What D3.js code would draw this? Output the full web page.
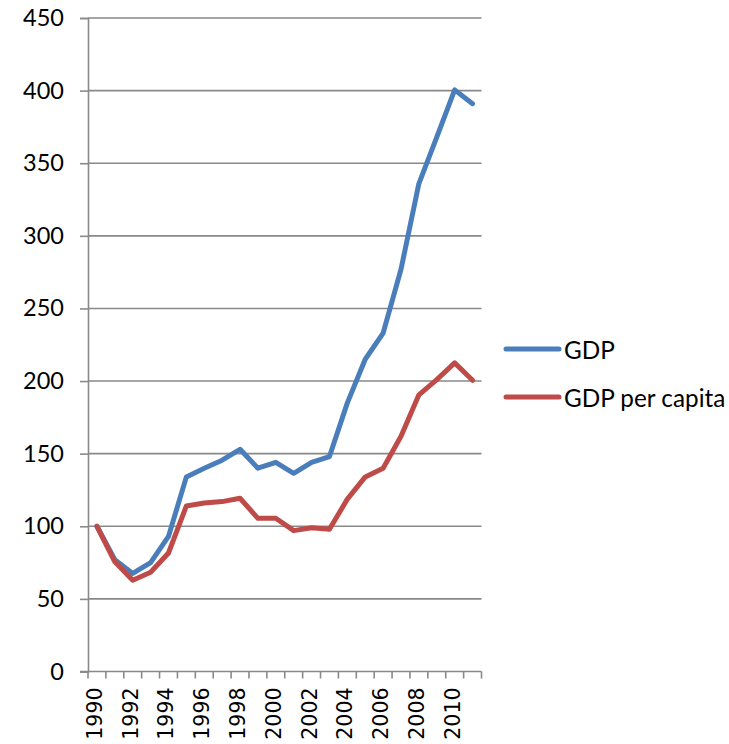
<!DOCTYPE html>
<html>
<head>
<meta charset="utf-8">
<script src="https://cdn.jsdelivr.net/npm/d3@7"></script>
<style>
  html, body { margin: 0; padding: 0; background: #fff; }
  svg { display: block; }
</style>
</head>
<body>
<svg id="chart" width="729" height="744"></svg>
<script>
const years = d3.range(1990, 2012).map(String);
const gdp = [100, 77, 67.5, 75, 93, 134, 140, 145.5, 153, 140, 144, 136.5, 144, 148, 185, 215, 233, 277, 336, 368, 400.5, 391];
const gdpPerCapita = [100, 75.5, 62.8, 68.3, 81.6, 114, 116, 117, 119.3, 105.5, 105.5, 97, 99, 98, 118.7, 134, 140, 162, 190.5, 201, 212.5, 200.5];
const yTicks = [0, 50, 100, 150, 200, 250, 300, 350, 400, 450];
const seriesNames = ["GDP", "GDP per capita"];
const seriesColors = ["#4a7ebb", "#be4b48"];

(function () {
const svg = d3.select("#chart");
const pLeft = 88, pRight = 481.5, pTop = 18, pBottom = 671.5;
const gridColor = "#898989";

const x = d3.scaleBand().domain(years).range([pLeft, pRight]).padding(0);
const y = d3.scaleLinear().domain([0, 450]).range([pBottom, pTop]);

// gridlines
svg.append("g").selectAll("line").data(yTicks.filter(d => d > 0)).join("line")
  .attr("x1", pLeft).attr("x2", pRight)
  .attr("y1", d => y(d)).attr("y2", d => y(d))
  .attr("stroke", gridColor).attr("stroke-width", 1.6);

// y axis
const yAxis = svg.append("g").attr("transform", `translate(${pLeft},0)`)
  .call(d3.axisLeft(y).tickValues(yTicks).tickSize(8).tickPadding(16));
yAxis.select(".domain").attr("stroke", gridColor).attr("stroke-width", 1.6);
yAxis.selectAll(".tick line").attr("stroke", gridColor).attr("stroke-width", 1.6);
yAxis.selectAll(".tick text").attr("font-family", "Lato, 'Open Sans', sans-serif")
  .attr("font-size", 23.5).attr("fill", "#000");

// x axis line + boundary ticks
const xg = svg.append("g");
xg.append("line").attr("x1", pLeft - 8).attr("x2", pRight).attr("y1", pBottom).attr("y2", pBottom)
  .attr("stroke", gridColor).attr("stroke-width", 1.6);
const bounds = years.map(d => x(d)).concat([x(years[years.length - 1]) + x.bandwidth()]);
xg.selectAll("line.tk").data(bounds).join("line").attr("class", "tk")
  .attr("x1", d => d).attr("x2", d => d).attr("y1", pBottom).attr("y2", pBottom + 7)
  .attr("stroke", gridColor).attr("stroke-width", 1.6);
xg.selectAll("text").data(years.filter((d, i) => i % 2 === 0)).join("text")
  .attr("transform", d => `translate(${x(d) + x.bandwidth() / 2 - 2},${pBottom + 16}) rotate(-90)`)
  .attr("text-anchor", "end").attr("dominant-baseline", "central")
  .attr("font-family", "'DejaVu Sans', sans-serif").attr("font-size", 20.5).attr("fill", "#000")
  .text(d => d);

// lines
const line = d3.line().x((d, i) => x(years[i]) + x.bandwidth() / 2).y(d => y(d));
[gdp, gdpPerCapita].forEach((s, k) => {
  svg.append("path").datum(s).attr("d", line).attr("fill", "none")
    .attr("stroke", seriesColors[k]).attr("stroke-width", 5)
    .attr("stroke-linejoin", "round").attr("stroke-linecap", "round");
});

// legend
const lg = svg.append("g");
seriesNames.forEach((n, k) => {
  const ly = 349 + k * 48;
  lg.append("line").attr("x1", 506).attr("x2", 559).attr("y1", ly).attr("y2", ly)
    .attr("stroke", seriesColors[k]).attr("stroke-width", 5).attr("stroke-linecap", "round");
  lg.append("text").attr("x", 564).attr("y", ly).attr("dominant-baseline", "central")
    .attr("font-family", "Lato, 'Open Sans', sans-serif").attr("font-size", 24.3).attr("fill", "#000")
    .text(n);
});
})();
</script>
</body>
</html>
